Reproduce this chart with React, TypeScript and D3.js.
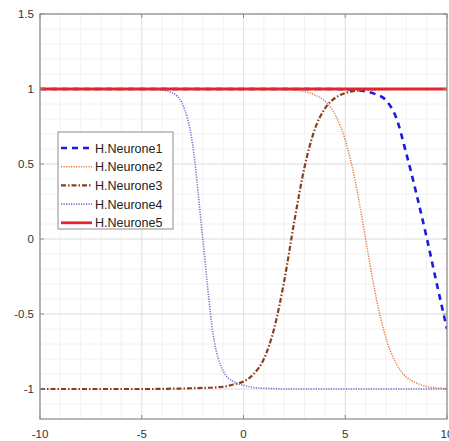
import React from "react";
import * as d3 from "d3";

// Sample positions along the input axis
const xValues = [
  -10, -9.5, -9, -8.5, -8, -7.5, -7, -6.5, -6, -5.5, -5, -4.5, -4, -3.5, -3, -2.5, -2, -1.5, -1, -0.5,
  0, 0.5, 1, 1.5, 2, 2.5, 3, 3.5, 4, 4.5, 5, 5.5, 6, 6.5, 7, 7.5, 8, 8.5, 9, 9.5, 10,
];

// Neuron outputs at each sample position
const neurone1 = [
  1, 1, 1, 1, 1, 1, 1, 1, 1, 1, 1, 1, 1, 1, 1, 1, 1, 1, 1, 1,
  1, 1, 1, 1, 1, 1, 1, 1, 1, 1, 0.998, 0.994, 0.985, 0.965, 0.925, 0.81, 0.57, 0.3, 0.01, -0.3, -0.6,
];
const neurone2 = [
  1, 1, 1, 1, 1, 1, 1, 1, 1, 1, 1, 1, 1, 1, 1, 1, 1, 1, 1, 1,
  1, 1, 0.999, 0.997, 0.996, 0.993, 0.984, 0.96, 0.92, 0.83, 0.66, 0.38, 0.0, -0.38, -0.66, -0.83, -0.92, -0.96, -0.984, -0.993, -0.997,
];
const neurone3 = [
  -1, -1, -1, -1, -1, -1, -1, -1, -1, -1, -1, -1, -0.999, -0.998, -0.997, -0.995, -0.993, -0.99, -0.985, -0.97,
  -0.95, -0.9, -0.8, -0.6, -0.28, 0.12, 0.48, 0.73, 0.87, 0.94, 0.973, 0.988, 0.995, 0.998, 1, 1, 1, 1, 1, 1, 1,
];
const neurone4 = [
  1, 1, 1, 1, 1, 1, 1, 1, 1, 1, 0.999, 0.998, 0.993, 0.975, 0.9, 0.63, 0.0, -0.63, -0.88, -0.95,
  -0.975, -0.99, -0.995, -0.998, -1, -1, -1, -1, -1, -1, -1, -1, -1, -1, -1, -1, -1, -1, -1, -1, -1,
];
const neurone5 = xValues.map(() => 1);

const seriesNames = ["H.Neurone1", "H.Neurone2", "H.Neurone3", "H.Neurone4", "H.Neurone5"];
const seriesValues = [neurone1, neurone2, neurone3, neurone4, neurone5];

const xTicks = [-10, -5, 0, 5, 10];
const yTicks = [-1, -0.5, 0, 0.5, 1, 1.5];

const styles = [
  { color: "#1a1ae0", width: 2.6, dash: "6,5" },
  { color: "#e8773e", width: 1.5, dash: "1.2,1.3" },
  { color: "#8a3f1c", width: 2.2, dash: "5,2,1.5,2" },
  { color: "#8a6cc8", width: 1.6, dash: "1.2,1.3" },
  { color: "#e8242a", width: 2.8, dash: "" },
];

const W = 449;
const H = 441;
const M = { left: 40, right: 447, top: 14, bottom: 419 };

export default function App() {
  const x = d3.scaleLinear().domain([-10, 10]).range([M.left, M.right]);
  const y = d3.scaleLinear().domain([-1.2, 1.5]).range([M.bottom, M.top]);

  const line = d3
    .line<[number, number]>()
    .x((d) => x(d[0]))
    .y((d) => y(d[1]))
    .curve(d3.curveMonotoneX);

  const minorX = d3.range(-10, 10.001, 1);
  const minorY = d3.range(-1.2, 1.5001, 0.1);

  const font = "'Liberation Sans', Arial, Helvetica, sans-serif";
  const legendX = 58;
  const legendY = 132;
  const rowH = 18.7;

  return (
    <svg
      width={W}
      height={H}
      style={{ position: "absolute", left: 0, top: 0, background: "#fff" }}
    >
      <defs>
        <clipPath id="plot">
          <rect x={M.left} y={M.top} width={M.right - M.left} height={M.bottom - M.top} />
        </clipPath>
      </defs>
      <rect x={M.left} y={M.top} width={M.right - M.left} height={M.bottom - M.top} fill="#fff" />
      {/* minor grid */}
      {minorX.map((v) => (
        <line key={"mx" + v} x1={x(v)} x2={x(v)} y1={M.top} y2={M.bottom} stroke="#efefef" strokeWidth={0.8} />
      ))}
      {minorY.map((v) => (
        <line key={"my" + v.toFixed(2)} x1={M.left} x2={M.right} y1={y(v)} y2={y(v)} stroke="#efefef" strokeWidth={0.8} />
      ))}
      {/* major grid */}
      {xTicks.map((v) => (
        <line key={"gx" + v} x1={x(v)} x2={x(v)} y1={M.top} y2={M.bottom} stroke="#e0e0e0" strokeWidth={0.9} />
      ))}
      {yTicks.map((v) => (
        <line key={"gy" + v} x1={M.left} x2={M.right} y1={y(v)} y2={y(v)} stroke="#e0e0e0" strokeWidth={0.9} />
      ))}
      {/* series */}
      <g clipPath="url(#plot)">
        {seriesValues.map((vals, i) => (
          <path
            key={seriesNames[i]}
            d={line(xValues.map((xv, j) => [xv, vals[j]] as [number, number])) || ""}
            fill="none"
            stroke={styles[i].color}
            strokeWidth={styles[i].width}
            strokeDasharray={styles[i].dash || undefined}
          />
        ))}
      </g>
      {/* axes box */}
      <rect
        x={M.left}
        y={M.top}
        width={M.right - M.left}
        height={M.bottom - M.top}
        fill="none"
        stroke="#8c8c8c"
        strokeWidth={1.2}
      />
      {xTicks.map((v) => (
        <g key={"tx" + v}>
          <line x1={x(v)} x2={x(v)} y1={M.bottom} y2={M.bottom - 4} stroke="#8c8c8c" />
          <line x1={x(v)} x2={x(v)} y1={M.top} y2={M.top + 4} stroke="#8c8c8c" />
          <text x={x(v)} y={438} textAnchor="middle" fontFamily={font} fontSize={11.5} fill="#333">
            {v}
          </text>
        </g>
      ))}
      {yTicks.map((v) => (
        <g key={"ty" + v}>
          <line x1={M.left} x2={M.left + 4} y1={y(v)} y2={y(v)} stroke="#8c8c8c" />
          <line x1={M.right} x2={M.right - 4} y1={y(v)} y2={y(v)} stroke="#8c8c8c" />
          <text x={34} y={y(v) + 4} textAnchor="end" fontFamily={font} fontSize={11.5} fill="#333">
            {v}
          </text>
        </g>
      ))}
      {/* legend */}
      <g>
        <rect
          x={legendX}
          y={legendY}
          width={115}
          height={97}
          fill="#fff"
          stroke="#8c8c8c"
          strokeWidth={1}
        />
        {seriesNames.map((name, i) => {
          const cy = legendY + 16 + i * rowH;
          return (
            <g key={"lg" + name}>
              <line
                x1={legendX + 3}
                x2={legendX + 34}
                y1={cy}
                y2={cy}
                stroke={styles[i].color}
                strokeWidth={styles[i].width}
                strokeDasharray={styles[i].dash || undefined}
              />
              <text x={legendX + 37} y={cy + 4.5} fontFamily={font} fontSize={12.5} fill="#222">
                {name}
              </text>
            </g>
          );
        })}
      </g>
    </svg>
  );
}
